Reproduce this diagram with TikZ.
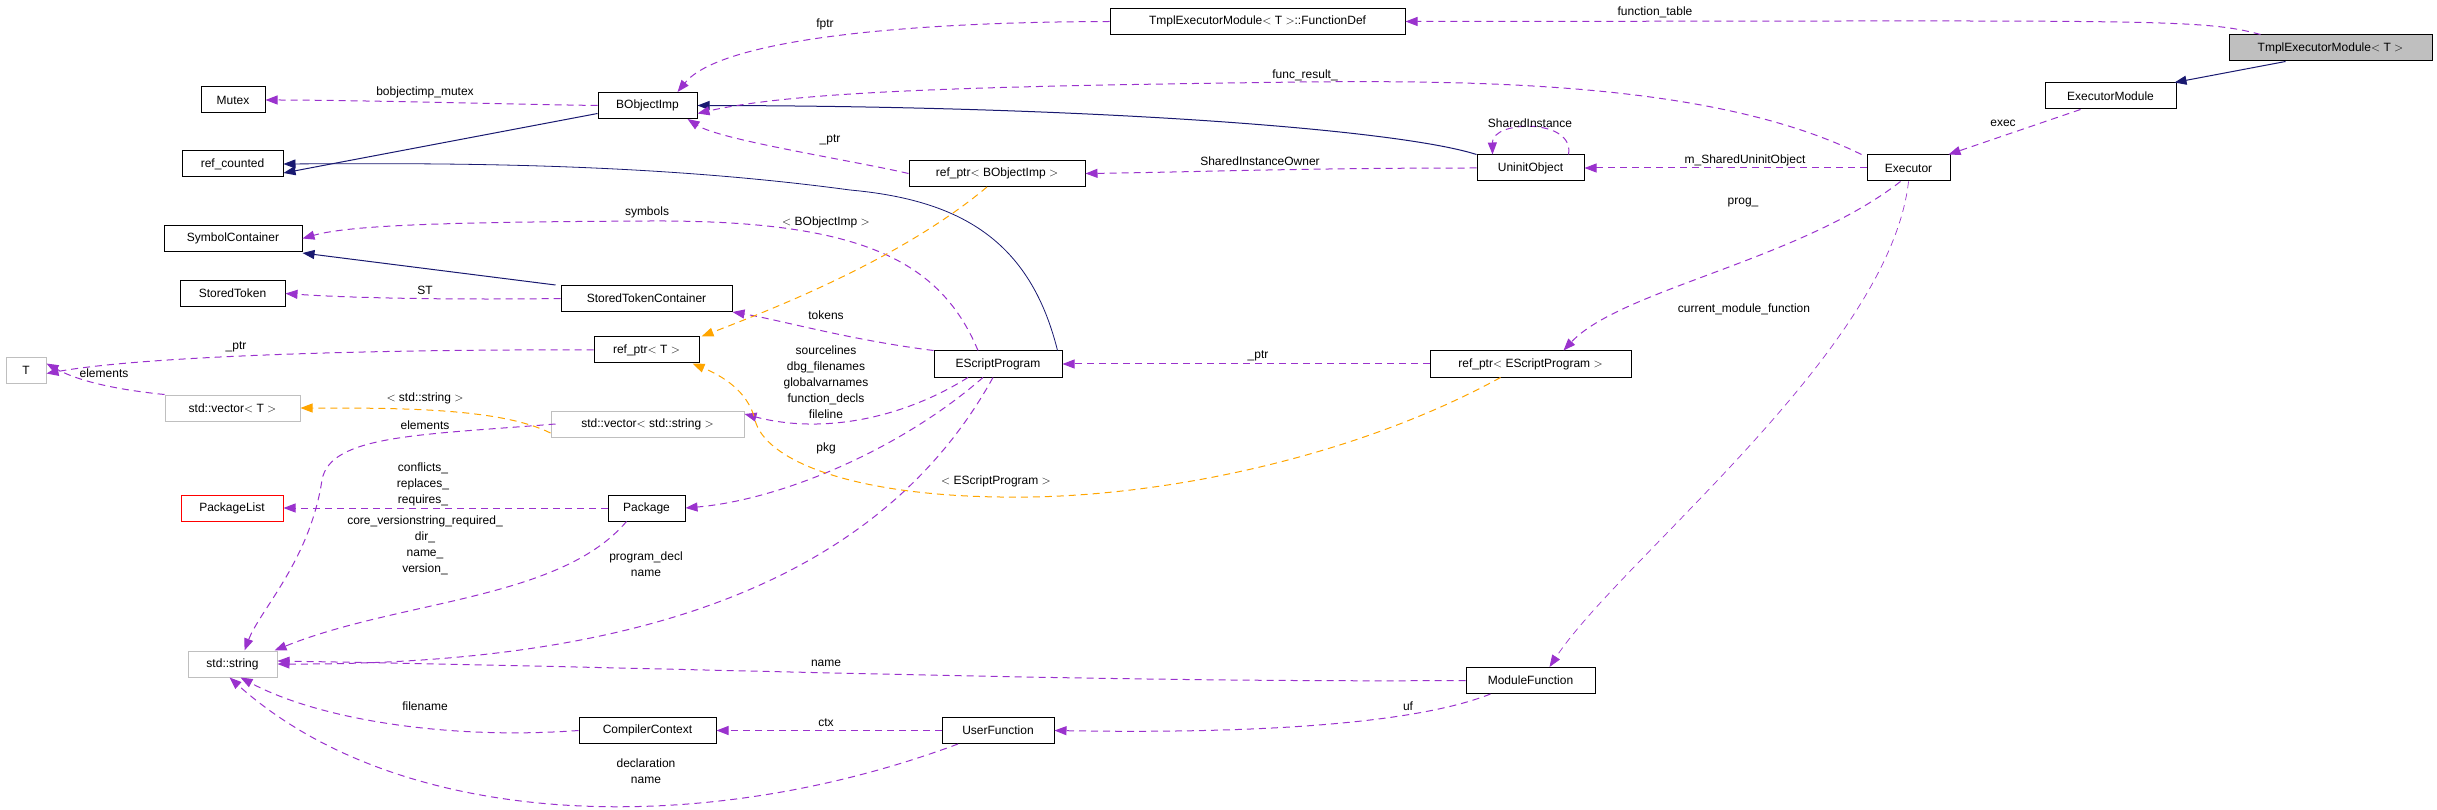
\documentclass[tikz,border=0pt]{standalone}
\usepackage{fontspec}
\setmainfont{Liberation Sans}
\usepackage{tikz}
\usetikzlibrary{arrows.meta}
\definecolor{usecol}{HTML}{9A32CD}
\definecolor{inhcol}{HTML}{191970}
\definecolor{tplcol}{HTML}{FFA500}
\definecolor{extcol}{HTML}{BFBFBF}
\tikzset{
  cls/.style={draw=black, line width=1pt, minimum height=26pt, inner sep=0pt, font=\fontsize{12}{14}\selectfont},
  ext/.style={cls, draw=extcol},
  bad/.style={cls, draw=red},
  lbl/.style={font=\fontsize{12}{16}\selectfont, align=center, inner sep=0pt},
  use/.style={draw=usecol, line width=1pt, dash pattern=on 7pt off 5pt, -{Triangle[length=12pt,width=9pt]}},
  inh/.style={draw=inhcol, line width=1pt, -{Triangle[length=12pt,width=9pt]}},
  tpl/.style={draw=tplcol, line width=1pt, dash pattern=on 7pt off 5pt, -{Triangle[length=12pt,width=9pt]}}
}
\begin{document}
\begin{tikzpicture}[x=1pt, y=-1pt]
\useasboundingbox (0,0) rectangle (2437,810);

% classes
\node[cls, fill=extcol, minimum width=203pt] (tem) at (2330.5,48) {TmplExecutorModule$<$ T $>$};
\node[cls, minimum width=295pt] (fdef) at (1257.5,21.5) {TmplExecutorModule$<$ T $>$::FunctionDef};
\node[cls, minimum width=131pt] (emod) at (2110.5,96) {ExecutorModule};
\node[cls, minimum width=83pt] (exe) at (1908.5,168) {Executor};
\node[cls, minimum width=107pt] (uio) at (1530.5,168) {UninitObject};
\node[cls, minimum width=99pt] (bimp) at (647.5,105.5) {BObjectImp};
\node[cls, minimum width=64pt] (mutex) at (233,100) {Mutex};
\node[cls, minimum width=101pt] (rc) at (232.5,164) {ref\_counted};
\node[cls, minimum width=176pt] (rptrb) at (997,173.5) {ref\_ptr$<$ BObjectImp $>$};
\node[cls, minimum width=138pt] (symc) at (233,238.5) {SymbolContainer};
\node[cls, minimum width=105pt] (stok) at (232.5,293.5) {StoredToken};
\node[cls, minimum width=171pt] (stc) at (646.5,298.5) {StoredTokenContainer};
\node[cls, minimum width=105pt] (rptrt) at (646.5,350) {ref\_ptr$<$ T $>$};
\node[ext, minimum width=40pt] (tcls) at (26,370.5) {T};
\node[ext, minimum width=135pt] (vect) at (232.5,408) {std::vector$<$ T $>$};
\node[cls, minimum width=128pt] (esp) at (998,364) {EScriptProgram};
\node[cls, minimum width=201pt] (rptre) at (1530.5,364) {ref\_ptr$<$ EScriptProgram $>$};
\node[ext, minimum width=193pt] (vecs) at (647.5,424) {std::vector$<$ std::string $>$};
\node[bad, minimum width=102pt] (pkgl) at (232,508) {PackageList};
\node[cls, minimum width=77pt] (pkg) at (646.5,508) {Package};
\node[ext, minimum width=89pt] (str) at (232.5,664) {std::string};
\node[cls, minimum width=129pt] (mfn) at (1530.5,680.5) {ModuleFunction};
\node[cls, minimum width=137pt] (cctx) at (647.5,730.5) {CompilerContext};
\node[cls, minimum width=112pt] (ufn) at (998,730.5) {UserFunction};

% inheritance
\draw[inh] ([xshift=-45]tem.south) -- ([xshift=-2]emod.north east);
\draw[inh] ([yshift=-8]bimp.west) -- ([yshift=-9]rc.east);
\draw[inh] (uio.north west) .. controls (1400,130) and (1100,106) .. (bimp.east);
\draw[inh] ([xshift=-5]stc.north west) -- ([yshift=-1]symc.south east);
\draw[inh, line width=0.8pt] ([xshift=-5]esp.north east) .. controls (1030,240) and (960,200) .. (850,190) .. controls (650,163) and (450,163) .. (rc.east);

% members
\draw[use] (fdef.west) .. controls (900,22) and (720,40) .. ([xshift=30]bimp.north);
\draw[use] ([xshift=-70]tem.north) .. controls (2200,18) and (2150,21) .. (fdef.east);
\draw[use] (bimp.west) .. controls (500,104) and (350,100) .. (mutex.east);
\draw[use] ([xshift=-5]exe.north west) .. controls (1720,85) and (1500,80) .. (1300,82) .. controls (1000,86) and (800,90) .. ([yshift=-8]bimp.east);
\draw[use] (rptrb.west) .. controls (850,160) and (720,140) .. ([xshift=40]bimp.south);
\draw[use] (uio.west) .. controls (1300,168) and (1200,172) .. (rptrb.east);
\draw[use] ([xshift=38]uio.north) .. controls (1575,118) and (1492,120) .. ([xshift=-38]uio.north);
\draw[use] (exe.west) -- (uio.east);
\draw[use] ([xshift=-30]emod.south) -- ([xshift=-2]exe.north east);
\draw[use] ([xshift=-20]esp.north) .. controls (940,260) and (860,220) .. (650,221) .. controls (450,222) and (350,225) .. (symc.east);
\draw[use] (stc.west) .. controls (450,300) and (350,298) .. (stok.east);
\draw[use] (esp.north west) .. controls (850,340) and (780,320) .. (stc.south east);
\draw[use] (rptrt.west) .. controls (400,349) and (150,355) .. ([yshift=-3]tcls.east);
\draw[use] (vect.north west) .. controls (120,390) and (80,382) .. ([yshift=7]tcls.east);
\draw[use] (rptre.west) -- (esp.east);
\draw[use] ([xshift=-8]exe.south) .. controls (1800,260) and (1620,290) .. ([xshift=33]rptre.north);
\draw[use, line width=0.7pt] (exe.south) .. controls (1890,350) and (1620,560) .. ([xshift=19]mfn.north);
\draw[use] ([xshift=-30]esp.south) .. controls (900,420) and (820,434) .. ([yshift=10]vecs.east);
\draw[use] ([xshift=-15]esp.south) .. controls (900,450) and (780,500) .. (pkg.east);
\draw[use] ([xshift=5]vecs.west) .. controls (420,435) and (330,435) .. (322,480) .. controls (310,560) and (260,610) .. ([xshift=12]str.north);
\draw[use] (pkg.west) -- (pkgl.east);
\draw[use] ([xshift=-20]pkg.south) .. controls (560,600) and (400,600) .. ([xshift=-3]str.north east);
\draw[use] ([xshift=-5]esp.south) .. controls (870,600) and (600,665) .. (str.east);
\draw[use] (mfn.west) .. controls (1100,683) and (700,668) .. ([yshift=3]str.east);
\draw[use] (cctx.west) .. controls (450,740) and (320,720) .. ([xshift=8]str.south);
\draw[use] (ufn.west) -- (cctx.east);
\draw[use] ([xshift=-40]mfn.south) .. controls (1400,730) and (1200,733) .. (ufn.east);
\draw[use] ([xshift=-40]ufn.south) .. controls (700,840) and (400,830) .. ([xshift=-3]str.south);

% template instances
\draw[tpl] ([xshift=-10]rptrb.south) .. controls (900,260) and (770,310) .. ([xshift=2]rptrt.north east);
\draw[tpl] ([yshift=-9]vecs.west) .. controls (500,408) and (400,408) .. (vect.east);
\draw[tpl] ([xshift=-30]rptre.south) .. controls (1350,460) and (1150,500) .. (1000,497) .. controls (850,495) and (765,460) .. (755,420) .. controls (748,390) and (720,375) .. ([xshift=-7]rptrt.south east);

% labels
\node[lbl] at (825,24) {fptr};
\node[lbl] at (1655,12) {function\_table};
\node[lbl] at (425,92) {bobjectimp\_mutex};
\node[lbl] at (1305,75) {func\_result\_};
\node[lbl] at (830,140) {\_ptr};
\node[lbl] at (1260,161) {SharedInstanceOwner};
\node[lbl] at (1530,123) {SharedInstance};
\node[lbl] at (1745,160) {m\_SharedUninitObject};
\node[lbl] at (2003,123) {exec};
\node[lbl] at (647,212) {symbols};
\node[lbl] at (826,222) {$<$ BObjectImp $>$};
\node[lbl] at (425,290) {ST};
\node[lbl] at (826,315) {tokens};
\node[lbl] at (236,347) {\_ptr};
\node[lbl] at (104,373) {elements};
\node[lbl] at (425,398) {$<$ std::string $>$};
\node[lbl] at (1258,356) {\_ptr};
\node[lbl] at (1743,203) {prog\_};
\node[lbl] at (1744,309) {current\_module\_function};
\node[lbl] at (996,481) {$<$ EScriptProgram $>$};
\node[lbl] at (826,382) {sourcelines\\dbg\_filenames\\globalvarnames\\function\_decls\\fileline};
\node[lbl] at (826,448) {pkg};
\node[lbl] at (425,425) {elements};
\node[lbl] at (423,484) {conflicts\_\\replaces\_\\requires\_};
\node[lbl] at (425,545) {core\_versionstring\_required\_\\dir\_\\name\_\\version\_};
\node[lbl] at (646,564) {program\_decl\\name};
\node[lbl] at (826,663) {name};
\node[lbl] at (425,706) {filename};
\node[lbl] at (826,723) {ctx};
\node[lbl] at (1408,706) {uf};
\node[lbl] at (646,771) {declaration\\name};
\end{tikzpicture}
\end{document}
